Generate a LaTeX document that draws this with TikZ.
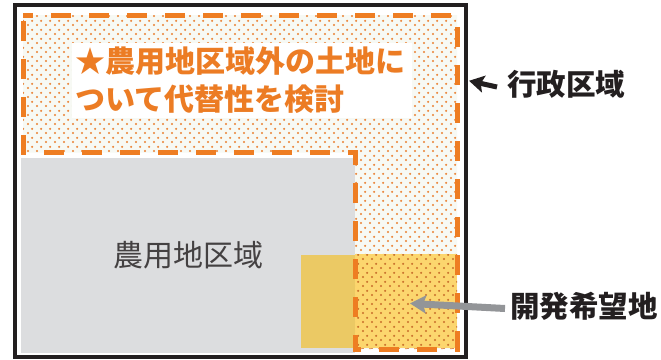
\documentclass[tikz,border=0pt]{standalone}
\usepackage{fontspec}
\newfontfamily\jp{Noto Sans CJK JP}
\usetikzlibrary{arrows.meta,patterns}
\definecolor{dashor}{RGB}{238,125,34}
\definecolor{textor}{RGB}{236,124,36}
\definecolor{dotor}{RGB}{234,128,50}
\definecolor{dotbg}{RGB}{247,249,244}
\definecolor{agri}{RGB}{220,221,223}
\definecolor{ysolid}{RGB}{235,201,100}
\definecolor{ydot}{RGB}{252,214,110}
\definecolor{garrow}{RGB}{147,149,152}
\definecolor{ink}{RGB}{35,31,32}
\pgfdeclarepatternformonly{odots}{\pgfqpoint{0pt}{0pt}}{\pgfqpoint{8.6pt}{8.6pt}}{\pgfqpoint{8.6pt}{8.6pt}}{%
  \pgfpathcircle{\pgfqpoint{2.1pt}{2.1pt}}{1.2pt}%
  \pgfpathcircle{\pgfqpoint{6.4pt}{6.4pt}}{1.2pt}%
  \pgfusepath{fill}}
\tikzset{
  dotfill/.style={pattern=odots, pattern color=dotor},
  orangedash/.style={draw=dashor, line width=5pt, dash pattern=on 20pt off 18pt, dash phase=10pt},
  biglabel/.style={font=\jp\bfseries\fontsize{29.5}{34}\selectfont, text=ink, inner sep=0pt},
}
\begin{document}
\begin{tikzpicture}[x=1pt,y=-1pt]
\useasboundingbox[fill=white] (0,0) rectangle (661,359);
% dotted L-shaped region
\path[fill=dotbg] (23,15) -- (457,15) -- (457,349) -- (355,349) -- (355,152.5) -- (23,152.5) -- cycle;
\path[dotfill] (23,15) -- (457,15) -- (457,349) -- (355,349) -- (355,152.5) -- (23,152.5) -- cycle;
% agricultural area
\fill[agri] (21,158) rectangle (355,353);
% development area
\fill[ysolid] (301,255) rectangle (355,348);
\fill[ydot] (355,254) rectangle (457,348);
\fill[pattern=odots, pattern color=dotor!85!black] (355,254) rectangle (457,348);
% dashed outline
\draw[orangedash] (23,15) -- (457,15) -- (457,349) -- (355,349) -- (355,152.5) -- (23,152.5) -- cycle;
% frame
\draw[ink, line width=4pt] (14.5,5) rectangle (465.5,357);
\coordinate (frameE) at (470,81);
% title box
\node[fill=white, inner xsep=3pt, inner ysep=0pt, text width=334pt, minimum height=75pt, align=left,
      font=\jp\bfseries\fontsize{30}{38}\selectfont, text=textor] (title) at (242,80.5)
  {★農用地区域外の土地に\\ついて代替性を検討};
% agri label
\node[font=\jp\fontsize{30}{34}\selectfont, text=ink!85, inner sep=0pt] (agrilabel) at (188,255) {農用地区域};
% labels
\node[biglabel, anchor=west] (gyosei) at (507,84) {行政区域};
\node[biglabel, anchor=west] (kaihatsu) at (510,306) {開発希望地};
\coordinate (devpt) at (411,303.5);
\draw[ink, line width=5pt, -{Stealth[length=15pt,width=17pt,inset=3pt]}, shorten >=-1pt] ([xshift=-10pt,yshift=-3pt]gyosei.west) -- (frameE);
\draw[garrow, line width=7pt, -{Stealth[length=16pt,width=18pt,inset=3pt]}, shorten >=-1pt] ([xshift=-5pt,yshift=-2.5pt]kaihatsu.west) -- (devpt);
\end{tikzpicture}
\end{document}
